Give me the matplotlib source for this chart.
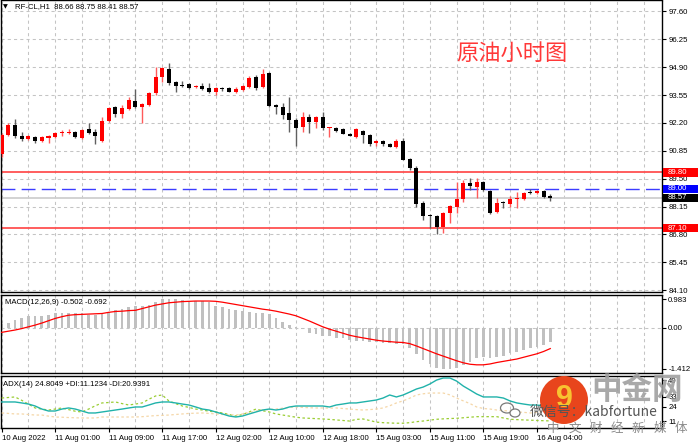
import matplotlib
matplotlib.use("Agg")
import matplotlib.pyplot as plt
from matplotlib.patches import Rectangle, Ellipse
import numpy as np

plt.rcParams['font.family'] = ['Liberation Sans', 'DejaVu Sans']

# hourly candles, RF-CL H1 (10 Aug 2022 .. 16 Aug 2022)
opens = [90.70, 91.63, 92.11, 91.58, 91.44, 91.53, 91.34, 91.48, 91.53, 91.70,
         91.73, 91.77, 91.48, 91.92, 91.77, 91.34, 92.31, 92.99, 92.65, 92.89,
         93.28, 92.99, 93.09, 93.67, 94.44, 94.83, 94.20, 94.06, 94.10, 93.96,
         94.01, 93.91, 93.72, 93.91, 93.91, 93.72, 93.81, 93.96, 94.44, 93.96,
         94.64, 93.09, 92.99, 92.70, 92.36, 92.02, 92.50, 92.26, 92.50, 91.97,
         91.97, 91.92, 91.68, 91.53, 91.82, 91.63, 91.24, 91.34, 91.19, 91.05,
         91.34, 90.46, 90.03, 88.33, 87.75, 87.70, 87.16, 87.84, 88.13, 88.52,
         89.30, 89.10, 89.35, 88.91, 87.89, 88.38, 88.28, 88.52, 88.52, 88.86,
         88.81, 88.91, 88.66]
highs = [91.70, 92.21, 92.41, 91.77, 91.63, 91.58, 91.58, 91.63, 91.77, 91.87,
         91.92, 91.82, 91.92, 92.21, 91.92, 92.50, 92.99, 93.04, 93.09, 93.47,
         93.86, 93.18, 93.72, 94.93, 94.93, 95.08, 94.25, 94.25, 94.15, 94.06,
         94.15, 94.15, 93.96, 93.96, 93.96, 93.96, 94.06, 94.45, 94.54, 94.83,
         94.69, 93.13, 93.18, 93.47, 92.45, 92.75, 92.65, 92.55, 92.75, 92.02,
         92.02, 91.97, 91.70, 91.97, 91.87, 91.68, 91.39, 91.39, 91.24, 91.44,
         91.48, 90.50, 90.10, 88.42, 87.80, 87.75, 87.89, 88.23, 89.35, 89.45,
         89.54, 89.54, 89.40, 88.96, 88.57, 88.40, 88.67, 88.86, 88.86, 89.00,
         88.93, 88.95, 88.75]
lows = [90.55, 91.58, 91.48, 91.34, 91.39, 91.24, 91.30, 91.24, 91.48, 91.58,
        91.68, 91.48, 91.44, 91.68, 91.19, 91.29, 92.26, 92.50, 92.45, 92.84,
        92.94, 92.21, 93.04, 93.57, 94.20, 94.06, 93.72, 93.96, 93.86, 93.91,
        93.81, 93.67, 93.57, 93.76, 93.72, 93.67, 93.76, 93.91, 93.81, 93.91,
        92.99, 92.65, 92.41, 91.77, 91.10, 91.77, 91.73, 91.97, 91.87, 91.53,
        91.77, 91.68, 91.55, 91.48, 91.24, 91.10, 91.10, 91.10, 91.02, 91.00,
        90.42, 89.93, 88.13, 87.50, 87.11, 86.82, 86.87, 87.37, 87.84, 88.38,
        88.96, 88.57, 88.91, 87.79, 87.84, 88.09, 88.13, 88.09, 88.47, 88.77,
        88.76, 88.57, 88.41]
closes = [91.63, 92.11, 91.58, 91.44, 91.58, 91.34, 91.53, 91.58, 91.73, 91.75,
          91.75, 91.53, 91.87, 91.73, 91.58, 92.31, 92.94, 92.65, 92.94, 93.33,
          92.99, 93.13, 93.67, 94.44, 94.88, 94.15, 94.01, 94.01, 93.91, 94.01,
          93.86, 93.72, 93.91, 93.86, 93.72, 93.86, 94.01, 94.40, 93.91, 94.59,
          93.04, 92.99, 92.60, 92.36, 91.97, 92.50, 92.26, 92.50, 91.97, 92.02,
          91.82, 91.68, 91.58, 91.92, 91.63, 91.19, 91.34, 91.19, 91.05, 91.34,
          90.42, 90.03, 88.28, 87.70, 87.70, 87.16, 87.84, 88.18, 88.52, 89.30,
          89.15, 89.35, 88.96, 87.84, 88.33, 88.33, 88.52, 88.57, 88.81, 88.81,
          88.91, 88.62, 88.57]

# MACD(12,26,9): histogram = main line, red = signal
macd_main = [0.12, 0.16, 0.28, 0.34, 0.39, 0.39, 0.42, 0.45, 0.49, 0.49,
             0.49, 0.49, 0.49, 0.45, 0.45, 0.49, 0.53, 0.60, 0.65, 0.72,
             0.74, 0.76, 0.80, 0.88, 0.98, 0.98, 0.98, 0.96, 0.91, 0.91,
             0.91, 0.88, 0.76, 0.72, 0.65, 0.60, 0.58, 0.55, 0.52, 0.50,
             0.46, 0.35, 0.20, 0.10, 0.03, -0.05, -0.18, -0.22, -0.27, -0.30,
             -0.34, -0.36, -0.42, -0.45, -0.45, -0.48, -0.50, -0.53, -0.53, -0.56,
             -0.56, -0.71, -0.91, -1.11, -1.26, -1.38, -1.41, -1.41, -1.38, -1.29,
             -1.18, -1.06, -1.00, -1.03, -1.00, -0.96, -0.88, -0.85, -0.77, -0.71,
             -0.65, -0.58, -0.50]
macd_signal = [-0.16, -0.12, -0.08, -0.03, 0.03, 0.09, 0.16, 0.24, 0.32, 0.38,
               0.43, 0.45, 0.46, 0.47, 0.48, 0.49, 0.53, 0.56, 0.57, 0.59,
               0.60, 0.66, 0.72, 0.78, 0.82, 0.86, 0.88, 0.90, 0.91, 0.92,
               0.92, 0.92, 0.91, 0.88, 0.84, 0.80, 0.76, 0.72, 0.68, 0.64,
               0.61, 0.57, 0.52, 0.47, 0.41, 0.32, 0.23, 0.13, 0.03, -0.05,
               -0.12, -0.19, -0.26, -0.31, -0.35, -0.39, -0.43, -0.46, -0.48, -0.50,
               -0.51, -0.55, -0.63, -0.72, -0.81, -0.90, -0.98, -1.06, -1.14, -1.21,
               -1.26, -1.28, -1.28, -1.25, -1.20, -1.16, -1.12, -1.08, -1.02, -0.96,
               -0.90, -0.82, -0.72]

# ADX(14)
adx = [28.5, 28.5, 28.5, 27.6, 26.6, 24.8, 22.0, 20.2, 20.2, 22.0,
       23.0, 22.0, 20.2, 18.4, 18.4, 19.3, 20.2, 21.1, 22.0, 23.0,
       23.9, 23.9, 25.7, 27.6, 28.5, 28.5, 27.6, 26.6, 25.7, 23.9,
       22.0, 21.1, 19.3, 17.5, 15.6, 14.7, 15.6, 17.5, 19.3, 21.1,
       22.0, 21.1, 22.0, 23.9, 24.8, 24.8, 24.8, 24.8, 24.8, 23.9,
       25.7, 26.6, 27.6, 27.6, 28.5, 29.4, 30.3, 32.1, 34.9, 33.1,
       34.9, 37.6, 40.4, 42.2, 45.0, 48.6, 50.5, 50.5, 47.7, 43.1,
       39.5, 35.8, 33.1, 33.1, 33.1, 32.1, 29.4, 27.6, 26.6, 25.7,
       25.7, 24.8, 24.8]
plus_di = [32.1, 32.6, 33.1, 30.0, 26.5, 23.0, 22.0, 21.1, 22.0, 23.0,
           21.5, 20.0, 19.3, 22.0, 25.0, 27.6, 28.0, 28.5, 27.0, 25.7,
           26.6, 27.6, 31.0, 34.0, 34.9, 29.4, 27.0, 24.8, 23.5, 22.0,
           21.1, 20.0, 19.3, 18.4, 17.0, 15.6, 17.0, 19.3, 22.0, 20.5,
           19.3, 17.5, 16.5, 15.5, 14.5, 13.8, 13.5, 13.2, 12.9, 12.5,
           12.0, 11.5, 11.0, 12.5, 12.9, 11.5, 10.0, 9.5, 9.2, 9.0,
           9.0, 9.5, 10.4, 11.0, 11.8, 12.6, 13.0, 13.3, 13.5, 14.0,
           14.5, 15.0, 15.0, 15.0, 15.0, 13.8, 12.6, 12.3, 12.0, 11.8,
           11.5, 11.3, 11.1]
minus_di = [18.4, 18.0, 17.5, 17.5, 17.0, 16.5, 16.5, 15.5, 14.7, 14.5,
            14.2, 14.0, 13.8, 13.8, 13.8, 14.7, 14.7, 14.7, 14.7, 14.7,
            14.7, 15.0, 15.5, 16.0, 16.2, 16.5, 17.0, 17.5, 18.0, 18.2,
            18.4, 18.0, 17.5, 17.0, 16.8, 16.5, 17.5, 18.5, 20.2, 21.0,
            21.5, 22.0, 22.8, 23.5, 23.9, 23.5, 23.2, 23.0, 23.0, 22.8,
            23.0, 22.5, 22.0, 21.5, 21.1, 21.5, 22.0, 23.0, 25.0, 27.6,
            29.5, 32.0, 34.9, 36.0, 36.7, 36.7, 36.7, 35.0, 32.1, 29.5,
            27.0, 23.9, 22.5, 22.0, 21.1, 20.5, 20.2, 19.3, 19.0, 18.4,
            19.0, 20.0, 20.9]

time_labels = ["10 Aug 2022", "11 Aug 01:00", "11 Aug 09:00", "11 Aug 17:00",
               "12 Aug 02:00", "12 Aug 10:00", "12 Aug 18:00", "15 Aug 03:00",
               "15 Aug 11:00", "15 Aug 19:00", "16 Aug 04:00"]
price_ticks = [97.60, 96.25, 94.90, 93.55, 92.20, 90.85, 89.50, 88.15, 86.80, 85.45, 84.10]
macd_ticks = [0.983, 0.0, -1.412]
adx_ticks = [48.6, 33.1, 23.9, 11.0]

# marked levels: resistance, entry, current bid, support
level_values = [89.80, 89.00, 88.57, 87.10]
level_colors = ['#ff0000', '#0000ff', '#000000', '#ff0000']

W, H = 698, 444
fig = plt.figure(figsize=(W / 100, H / 100), dpi=100)
fig.patch.set_facecolor('white')


def px_axes(x0, y0, x1, y1):
    return fig.add_axes([x0 / W, 1 - y1 / H, (x1 - x0) / W, (y1 - y0) / H])


def fig_text(x, y, s, **kw):
    return fig.text(x / W, 1 - y / H, s, **kw)


ax = px_axes(1, 0.5, 662, 292)
ax_macd = px_axes(1, 295, 662, 373)
ax_adx = px_axes(1, 375.5, 662, 428)

x = np.arange(len(opens))
o = np.array(opens)
c = np.array(closes)
up = c >= o
grid_style = dict(color='#c4c4c4', lw=0.75, ls=(0, (3, 3)))

for a in (ax, ax_macd, ax_adx):
    a.set_xlim(-0.1, 98.7)
    a.set_xticks(range(0, 81, 8))
    a.set_xticks([t for t in range(4, 99, 4) if t % 8 or t > 80], minor=True)
    a.grid(True, axis='x', which='both', **grid_style)
    a.yaxis.tick_right()
    a.tick_params(axis='y', which='both', length=3, width=0.8, labelsize=5.6, pad=1.5, colors='black')
    a.tick_params(axis='x', which='both', length=0)
    a.set_xticklabels([])
    for s in a.spines.values():
        s.set_color('black')
        s.set_linewidth(1)
    a.set_axisbelow(True)

# price panel
ax.set_ylim(84.01, 98.13)
ax.set_yticks(price_ticks)
ax.set_yticklabels([f'{v:.2f}' for v in price_ticks])
ax.grid(True, axis='y', **grid_style)

ax.axhline(level_values[0], color='#ff5050', lw=1.3, zorder=2)
ax.axhline(level_values[3], color='#ff5050', lw=1.3, zorder=2)
ax.axhline(level_values[2], color='#cfcfcf', lw=1.3, zorder=2)
ax.axhline(level_values[1], color='#3c3cff', lw=1.0, ls=(0, (10, 4.5)), zorder=2)

wick_colors = np.where(up, '#ff5a5a', '#606060')
body_colors = np.where(up, '#ff0000', '#000000')
ax.vlines(x, lows, highs, colors=wick_colors, lw=1.0, zorder=3)
body = c - o
body = np.where(np.abs(body) < 0.03, np.where(up, 0.03, -0.03), body)
ax.bar(x, body, bottom=o, width=0.6, color=body_colors, lw=0, zorder=4)

ytr = ax.get_yaxis_transform()
for v, col in zip(level_values, level_colors):
    ax.add_patch(Rectangle((1.0015, v - 0.2), 36 / 661, 0.4, transform=ytr,
                           facecolor=col, edgecolor='none', clip_on=False, zorder=10))
    ax.text(1.009, v, f'{v:.2f}', transform=ytr, ha='left', va='center',
            fontsize=5.6, color='white', clip_on=False, zorder=11)

fig_text(512, 53, '原油小时图', fontsize=16, color='#ff3838', ha='center', va='center',
         family=['Noto Sans CJK SC', 'DejaVu Sans'])

# MACD panel
ax_macd.set_ylim(-1.562, 1.128)
ax_macd.bar(x, macd_main, width=0.4, color='#c0c0c0', lw=0, zorder=2)
ax_macd.plot(x, macd_signal, color='#ff0000', lw=0.9, zorder=3)
ax_macd.axhline(0, **grid_style, zorder=1)
ax_macd.set_yticks(macd_ticks)
ax_macd.set_yticklabels(['0.983', '0.00', '-1.412'])

# ADX panel
ax_adx.set_ylim(4.6, 52.8)
ax_adx.plot(x, plus_di, color='#9acd32', lw=0.9, ls=(0, (2, 2)), zorder=3)
ax_adx.plot(x, minus_di, color='#f5d7a8', lw=0.9, ls=(0, (2, 2)), zorder=3)
ax_adx.plot(x, adx, color='#20b2aa', lw=1.0, zorder=4)
ax_adx.set_yticks(adx_ticks)
ax_adx.set_yticklabels([f'{v:.0f}' for v in adx_ticks])
ax_adx.set_xticklabels(time_labels, fontsize=5.6, ha='left')
ax_adx.tick_params(axis='x', which='major', length=3, width=0.8, pad=2)

# header texts
fig_text(3, 7, '▼', fontsize=4.5, va='center', family='DejaVu Sans')
fig_text(15, 7, 'RF-CL,H1  88.66 88.75 88.41 88.57', fontsize=5.6, va='center')
fig_text(5, 302, 'MACD(12,26,9) -0.502 -0.692', fontsize=5.6, va='center')
fig_text(3, 384, 'ADX(14) 24.8049 +DI:11.1234 -DI:20.9391', fontsize=5.6, va='center')

# watermark
fig.add_artist(Ellipse((564 / W, 1 - 400 / H), 48 / W, 48 / H, transform=fig.transFigure,
                       facecolor='#e8451c', edgecolor='none', zorder=20))
fig_text(564, 399, '9', fontsize=22, fontweight='bold', color='#f8c330', ha='center',
         va='center', zorder=21)
# small wechat bubbles
fig.add_artist(Ellipse((507 / W, 1 - 408 / H), 13 / W, 10 / H, transform=fig.transFigure,
                       facecolor='none', edgecolor='#7a7a7a', lw=0.9, zorder=21))
fig.add_artist(Ellipse((515 / W, 1 - 413 / H), 10 / W, 8 / H, transform=fig.transFigure,
                       facecolor='white', edgecolor='#7a7a7a', lw=0.9, zorder=21))
cjk = ['Noto Sans CJK SC', 'DejaVu Sans']
fig_text(637, 390, '中金网', fontsize=22, fontweight='bold', color='#a0a0a0', ha='center',
         va='center', family=cjk, alpha=0.9, zorder=21)
fig_text(530, 412, '微信号：kabfortune', fontsize=10, color='#555555', ha='left',
         va='center', family=cjk, zorder=21)
for i, ch in enumerate('中文财经新媒体'):
    fig_text(553 + i * 21.3, 428, ch, fontsize=9, color='#8a8a8a', ha='center',
             va='center', family=cjk, zorder=21)

fig.savefig('out.png', dpi=100)
